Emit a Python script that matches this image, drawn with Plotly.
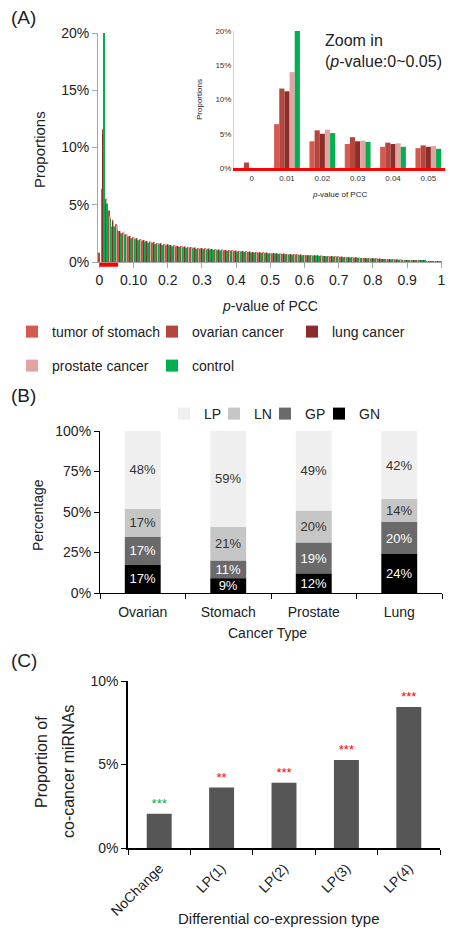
import plotly.graph_objects as go

W, H = 453, 936
OFF = 8  # default page body margin in the browser
FONT = "Liberation Sans"

# ---------------- Panel A data (proportion %, bins of p-value 0.00 .. 1.00) ----------------
series_names = ["tumor of stomach", "ovarian cancer", "lung cancer", "prostate cancer", "control"]
series_colors = ["#d45a50", "#b5463d", "#8b2e2a", "#e2a3a3", "#00b050"]

inset_bins = ["0", "0.01", "0.02", "0.03", "0.04", "0.05"]
stomach_head = [0.0, 6.4, 3.9, 3.5, 3.1, 2.9]
ovarian_head = [0.8, 11.6, 5.5, 4.5, 3.7, 3.3]
lung_head = [0.0, 11.2, 5.0, 3.9, 3.5, 3.1]
prostate_head = [0.0, 14.0, 5.6, 4.0, 3.6, 3.2]
control_head = [0.0, 20.0, 5.1, 3.8, 3.1, 2.8]

# bins 0.06 .. 1.00
tail_cancer = [2.7, 2.55, 2.4, 2.25, 2.15, 2.05, 1.97, 1.9, 1.83, 1.77,
               1.71, 1.66, 1.61, 1.56, 1.52, 1.48, 1.44, 1.4, 1.37, 1.34,
               1.31, 1.28, 1.25, 1.22, 1.19, 1.17, 1.15, 1.12, 1.1, 1.08,
               1.06, 1.04, 1.02, 1.0, 0.98, 0.96, 0.94, 0.92, 0.9, 0.88,
               0.86, 0.84, 0.82, 0.8, 0.78, 0.77, 0.75, 0.73, 0.72, 0.7,
               0.68, 0.67, 0.65, 0.64, 0.62, 0.6, 0.59, 0.57, 0.56, 0.54,
               0.53, 0.51, 0.5, 0.48, 0.47, 0.45, 0.44, 0.42, 0.41, 0.39,
               0.38, 0.36, 0.35, 0.33, 0.32, 0.3, 0.29, 0.27, 0.26, 0.24,
               0.23, 0.21, 0.2, 0.18, 0.17, 0.15, 0.14, 0.12, 0.11, 0.09,
               0.08, 0.06, 0.05, 0.03, 0.02]
tail_control = [2.5, 2.35, 2.2, 2.08, 1.98, 1.9, 1.82, 1.75, 1.69, 1.63,
                1.58, 1.53, 1.49, 1.45, 1.41, 1.37, 1.33, 1.3, 1.27, 1.24,
                1.21, 1.18, 1.16, 1.13, 1.11, 1.09, 1.07, 1.04, 1.02, 1.0,
                0.98, 0.96, 0.95, 0.93, 0.91, 0.89, 0.87, 0.85, 0.84, 0.82,
                0.8, 0.78, 0.77, 0.75, 0.73, 0.72, 0.7, 0.69, 0.67, 0.66,
                0.64, 0.63, 0.61, 0.6, 0.58, 0.57, 0.55, 0.54, 0.52, 0.51,
                0.5, 0.48, 0.47, 0.45, 0.44, 0.42, 0.41, 0.4, 0.38, 0.37,
                0.36, 0.34, 0.33, 0.31, 0.3, 0.29, 0.27, 0.26, 0.25, 0.23,
                0.22, 0.2, 0.19, 0.18, 0.16, 0.15, 0.13, 0.12, 0.11, 0.09,
                0.08, 0.07, 0.05, 0.04, 0.03]

p_bins = [round(i * 0.01, 2) for i in range(101)]
main_tickvals = [0, 0.1, 0.2, 0.3, 0.4, 0.5, 0.6, 0.7, 0.8, 0.9, 1.0]
main_ticktext = ["0", "0.10", "0.2", "0.3", "0.4", "0.5", "0.6", "0.7", "0.8", "0.9", "1"]
prop_ticks = [0, 5, 10, 15, 20]
prop_ticktext = ["0%", "5%", "10%", "15%", "20%"]
zoom_range = [0.0, 0.05]

heads = [stomach_head, ovarian_head, lung_head, prostate_head, control_head]
tails = [tail_cancer, tail_cancer, tail_cancer, tail_cancer, tail_control]

# ---------------- Panel B data ----------------
cancer_types = ["Ovarian", "Stomach", "Prostate", "Lung"]
GN = [17.3, 9.1, 12.0, 24.0]
GP = [17.3, 10.8, 19.0, 19.8]
LN = [17.3, 20.9, 19.8, 14.2]
LP = [48.1, 59.2, 49.2, 42.0]
pct_ticks = [0, 25, 50, 75, 100]
pct_ticktext = ["0%", "25%", "50%", "75%", "100%"]

# ---------------- Panel C data ----------------
diff_types = ["NoChange", "LP(1)", "LP(2)", "LP(3)", "LP(4)"]
co_cancer = [2.05, 3.62, 3.9, 5.27, 8.45]
signif = ["***", "**", "***", "***", "***"]
signif_colors = ["#00b050", "#ff0000", "#ff0000", "#ff0000", "#ff0000"]
c_ticks = [0, 5, 10]
c_ticktext = ["0%", "5%", "10%"]


def fx(px):
    return (px - OFF) / W


def fy(py):
    return 1 - (py - OFF) / H


def px_x(a, b):
    return [fx(a), fx(b)]


def px_y(top, bottom):
    return [fy(bottom), fy(top)]


fig = go.Figure()

# Panel A main histogram
for i, name in enumerate(series_names):
    fig.add_trace(go.Bar(
        x=p_bins, y=heads[i] + tails[i], name=name,
        marker=dict(color=series_colors[i], line=dict(width=0)),
        xaxis="x", yaxis="y",
        legend="legend" if i < 3 else "legend2",
        hoverinfo="skip",
    ))

# Panel A inset
for i, name in enumerate(series_names):
    fig.add_trace(go.Bar(
        x=inset_bins, y=heads[i], name=name, showlegend=False,
        marker=dict(color=series_colors[i], line=dict(width=0)),
        xaxis="x2", yaxis="y2", hoverinfo="skip",
    ))

# Panel B stacked bars (explicit bases)
b_layers = [("LP", LP, "#efefef", "#333333", "legend3"),
            ("LN", LN, "#c6c6c6", "#333333", "legend4"),
            ("GP", GP, "#6a6a6a", "#ffffff", "legend5"),
            ("GN", GN, "#000000", "#ffffff", "legend6")]
bottom_order = [GN, GP, LN, LP]
bases = {}
run = [0.0] * len(cancer_types)
for vals in bottom_order:
    bases[id(vals)] = list(run)
    run = [r + v for r, v in zip(run, vals)]

for name, vals, col, tcol, leg in b_layers:
    fig.add_trace(go.Bar(
        x=cancer_types, y=vals, base=bases[id(vals)], name=name,
        marker=dict(color=col, line=dict(width=0)),
        offsetgroup="b", alignmentgroup="b", width=0.42,
        texttemplate="%{y:.0f}%", textposition="inside", insidetextanchor="middle",
        textangle=0, textfont=dict(size=13, color=tcol, family=FONT),
        xaxis="x3", yaxis="y3", legend=leg, hoverinfo="skip",
    ))

# Panel C
fig.add_trace(go.Bar(
    x=diff_types, y=co_cancer, showlegend=False, width=0.4,
    marker=dict(color="#555555", line=dict(width=0)),
    text=signif, textposition="outside", cliponaxis=False,
    textfont=dict(size=13, color=signif_colors, family=FONT),
    xaxis="x4", yaxis="y4", hoverinfo="skip",
))

tick_font = dict(size=14, color="#222222", family=FONT)
small_font = dict(size=8, color="#333333", family=FONT)
leg_font = dict(size=14, family=FONT, color="#222222")


def leg(x_px, y_px, **kw):
    return dict(orientation="h", x=fx(x_px), xanchor="left", y=fy(y_px), yanchor="middle",
                font=leg_font, bgcolor="rgba(0,0,0,0)", **kw)


fig.update_layout(
    width=W, height=H,
    margin=dict(l=0, r=0, t=0, b=0, autoexpand=False),
    paper_bgcolor="white", plot_bgcolor="white",
    font=dict(family=FONT, color="#222222"),
    barmode="group", bargap=0.27, bargroupgap=0,
    uniformtext=dict(minsize=13, mode="show"),
    # Panel A main
    xaxis=dict(domain=px_x(98, 442), range=[-0.004, 1.002], anchor="y",
               tickmode="array", tickvals=main_tickvals, ticktext=main_ticktext,
               showline=True, linecolor="#a6a6a6", linewidth=1,
               ticks="outside", ticklen=5, tickcolor="#a6a6a6",
               tickfont=tick_font, showgrid=False, zeroline=False),
    yaxis=dict(domain=px_y(33, 262), range=[0, 20], anchor="x",
               tickmode="array", tickvals=prop_ticks, ticktext=prop_ticktext,
               showline=True, linecolor="#a6a6a6", linewidth=1,
               ticks="outside", ticklen=5, tickcolor="#a6a6a6",
               tickfont=tick_font, showgrid=False, zeroline=False),
    # Inset
    xaxis2=dict(domain=px_x(234, 446), anchor="y2", type="category",
                showline=True, linecolor="#ff0000", linewidth=3,
                ticks="", tickfont=small_font, showgrid=False, zeroline=False),
    yaxis2=dict(domain=px_y(31, 168), range=[0, 20], anchor="x2",
                tickmode="array", tickvals=prop_ticks, ticktext=prop_ticktext,
                showline=True, linecolor="#d0d0d0", linewidth=1, ticks="",
                tickfont=small_font, showgrid=False, zeroline=False),
    # Panel B
    xaxis3=dict(domain=px_x(100, 442), anchor="y3", type="category",
                showline=True, linecolor="#000000", linewidth=1.2,
                ticks="outside", ticklen=5, tickcolor="#000000", tickson="boundaries",
                ticklabelstandoff=6,
                tickfont=tick_font, showgrid=False, zeroline=False),
    yaxis3=dict(domain=px_y(431, 593), range=[0, 100], anchor="x3",
                tickmode="array", tickvals=pct_ticks, ticktext=pct_ticktext,
                showline=True, linecolor="#000000", linewidth=1.2,
                ticks="outside", ticklen=5, tickcolor="#000000",
                tickfont=tick_font, showgrid=False, zeroline=False),
    # Panel C
    xaxis4=dict(domain=px_x(128, 440), anchor="y4", type="category",
                showline=True, linecolor="#000000", linewidth=1.5,
                ticks="outside", ticklen=5, tickcolor="#000000", tickson="boundaries",
                ticklabelstandoff=5,
                tickangle=-45, tickfont=tick_font, showgrid=False, zeroline=False),
    yaxis4=dict(domain=px_y(681, 848), range=[0, 10], anchor="x4",
                tickmode="array", tickvals=c_ticks, ticktext=c_ticktext,
                showline=True, linecolor="#000000", linewidth=1.5,
                ticks="outside", ticklen=5, tickcolor="#000000",
                tickfont=tick_font, showgrid=False, zeroline=False),
    legend=leg(12, 332, entrywidth=95),
    legend2=leg(12, 366, entrywidth=95),
    legend3=leg(164, 414),
    legend4=leg(214, 414),
    legend5=leg(265, 414),
    legend6=leg(319, 414),
    showlegend=True,
)

# zoom marker under main axis
fig.add_shape(type="line", xref="x", yref="y domain",
              x0=zoom_range[0], x1=zoom_range[1] + 0.005, y0=-0.012, y1=-0.012,
              line=dict(color="#ff0000", width=4))


def ann(text, x, y, size, xanchor="center", angle=0, align="center"):
    fig.add_annotation(text=text, x=fx(x), y=fy(y), xref="paper", yref="paper",
                       xanchor=xanchor, yanchor="middle", showarrow=False, textangle=angle,
                       align=align, font=dict(size=size, family=FONT, color="#222222"))


ann("(A)", 9, 18, 19, xanchor="left")
ann("(B)", 9, 395, 19, xanchor="left")
ann("(C)", 9, 660, 19, xanchor="left")

ann("Proportions", 39, 150, 15, angle=-90)
ann("<i>p</i>-value of PCC", 270, 306, 14)
ann("Zoom in<br>(<i>p</i>-value:0~0.05)", 323, 51, 16, xanchor="left", align="left")
ann("Proportions", 200, 100, 8, angle=-90)
ann("<i>p</i>-value of PCC", 339, 195, 8)

ann("Percentage", 38, 515, 14, angle=-90)
ann("Cancer Type", 267, 633, 14)

ann("Proportion of", 41, 762, 16, angle=-90)
ann("co-cancer miRNAs", 68, 772, 16, angle=-90)
ann("Differential co-expression type", 279, 918, 15)

fig.write_html("out.html")
